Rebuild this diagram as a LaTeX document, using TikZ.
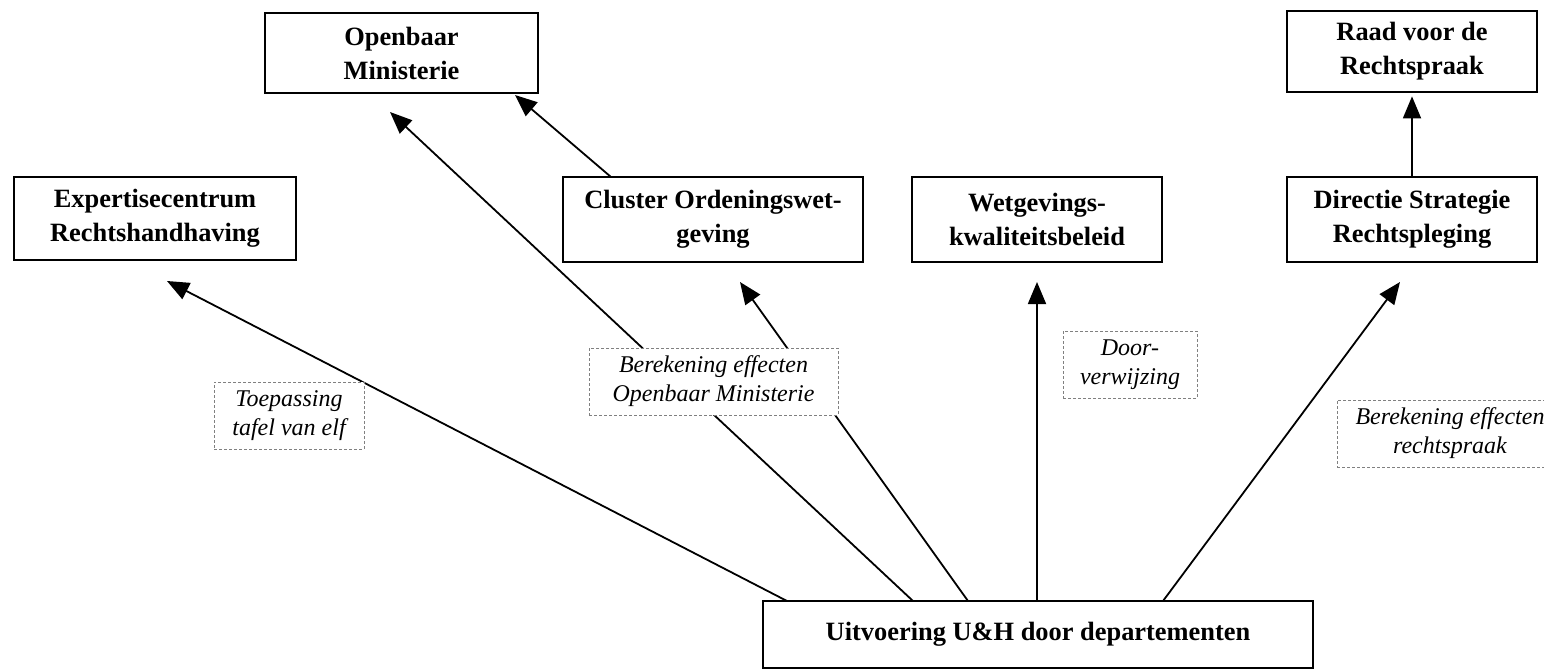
\documentclass[tikz,border=0pt]{standalone}
\usepackage{fontspec}
\setmainfont{Liberation Serif}
\usetikzlibrary{arrows.meta}
\begin{document}
\begin{tikzpicture}[x=0.5pt,y=-0.5pt,
  box/.style={draw, line width=1.4pt, fill=white, align=center, inner sep=0pt,
    font=\fontsize{13.2}{17}\selectfont\bfseries},
  lbl/.style={draw=gray, dash pattern=on 1.5pt off 1pt, line width=0.5pt, fill=white,
    align=center, inner sep=0pt, font=\fontsize{12}{14.5}\selectfont\itshape},
  arr/.style={-{Triangle[length=11pt,width=9pt]}, line width=0.9pt}]
\useasboundingbox (0,0) rectangle (1544,669);

% main boxes
\node[box, minimum width=136.5pt, minimum height=40pt] (om) at (401.5,53) {Openbaar\\Ministerie};
\node[box, minimum width=125pt, minimum height=40.5pt] (raad) at (1412,51.5) {Raad voor de\\Rechtspraak};
\node[box, minimum width=141pt, minimum height=41.5pt] (exp) at (155,218.5) {Expertisecentrum\\Rechtshandhaving};
\node[box, minimum width=150pt, minimum height=42.5pt] (clu) at (713,219.5) {Cluster Ordeningswet-\\geving};
\node[box, minimum width=125pt, minimum height=42.5pt] (wet) at (1037,219.5) {Wetgevings-\\kwaliteitsbeleid};
\node[box, minimum width=125pt, minimum height=42.5pt] (dir) at (1412,219.5) {Directie Strategie\\Rechtspleging};
\node[box, minimum width=275pt, minimum height=33.5pt] (uit) at (1038,634.5) {Uitvoering U\&H door departementen};

% connector end points
\coordinate (s1) at (787,601);
\coordinate (s2) at (913,601);
\coordinate (s3) at (968,601);
\coordinate (s4) at (1037,601);
\coordinate (s5) at (1163,601);
\coordinate (t1) at (167,281);
\coordinate (t2) at (390,112);
\coordinate (t3) at (740,282);
\coordinate (t4) at (1037,282);
\coordinate (t5) at (1400,282);
\coordinate (c1) at (611,177);
\coordinate (t6) at (515,95);

% connectors
\draw[arr] (s1) -- (t1);
\draw[arr] (s2) -- (t2);
\draw[arr] (s3) -- (t3);
\draw[arr] (s4) -- (t4);
\draw[arr] (s5) -- (t5);
\draw[arr] (c1) -- (t6);
\draw[arr, shorten >=1.5pt] (dir.north) -- (raad.south);

% labels
\node[lbl, minimum width=75pt, minimum height=33.5pt] (toe) at (289,415.5) {Toepassing\\tafel van elf};
\node[lbl, minimum width=124.5pt, minimum height=33.5pt] (bom) at (713.5,381.5) {Berekening effecten\\Openbaar Ministerie};
\node[lbl, minimum width=67pt, minimum height=33.5pt] (door) at (1130,364.5) {Door-\\verwijzing};
\node[lbl, minimum width=113pt, minimum height=33.5pt] (ber) at (1450,433.5) {Berekening effecten\\rechtspraak};
\end{tikzpicture}
\end{document}
